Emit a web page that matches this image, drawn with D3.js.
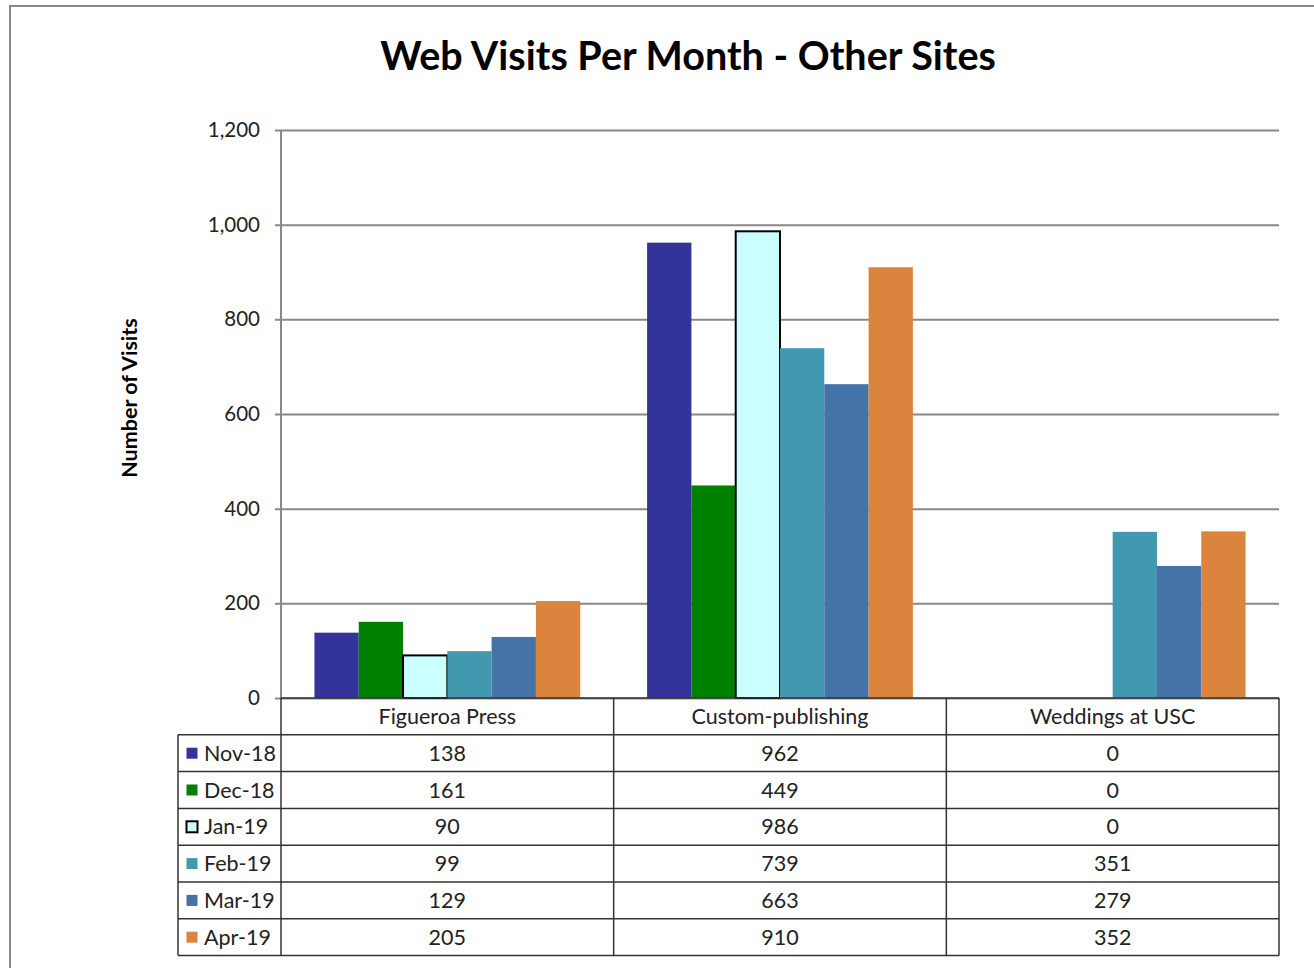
<!DOCTYPE html>
<html>
<head>
<meta charset="utf-8">
<script src="https://cdn.jsdelivr.net/npm/d3@7"></script>
<style>
  body { margin: 0; background: #fff; }
  svg text { font-family: Lato, "Open Sans", sans-serif; fill: #222; }
</style>
</head>
<body>
<div id="chart"></div>
<script>
// data
var sites = ["Figueroa Press", "Custom-publishing", "Weddings at USC"];
var months = ["Nov-18", "Dec-18", "Jan-19", "Feb-19", "Mar-19", "Apr-19"];
var nov18 = [138, 962, 0];
var dec18 = [161, 449, 0];
var jan19 = [90, 986, 0];
var feb19 = [99, 739, 351];
var mar19 = [129, 663, 279];
var apr19 = [205, 910, 352];
var yTicks = [0, 200, 400, 600, 800, 1000, 1200];
var colors = ["#333399", "#008000", "#CCFFFF", "#4198AF", "#4572A7", "#DB843D"];

var seriesValues = [nov18, dec18, jan19, feb19, mar19, apr19];

var W = 1314, H = 968;
var plotLeft = 281, plotRight = 1279, plotTop = 130, plotBottom = 698;
var rowH = 36.8, legendLeft = 178;

var svg = d3.select("#chart").append("svg")
  .attr("width", W)
  .attr("height", H);

// outer chart frame (only top/left visible in the crop)
svg.append("rect")
  .attr("x", 10).attr("y", 6)
  .attr("width", W + 20).attr("height", H + 20)
  .attr("fill", "none")
  .attr("stroke", "#888")
  .attr("stroke-width", 2);

svg.append("text")
  .attr("x", 688).attr("y", 70)
  .attr("text-anchor", "middle")
  .attr("font-size", 39.5)
  .attr("font-weight", "bold")
  .style("fill", "#000")
  .text("Web Visits Per Month - Other Sites");

var x = d3.scaleBand()
  .domain(sites)
  .range([plotLeft, plotRight])
  .padding(0);

var xInner = d3.scaleBand()
  .domain(months)
  .range([0, x.bandwidth()])
  .paddingInner(0)
  .paddingOuter(0.755);

var y = d3.scaleLinear()
  .domain([0, 1200])
  .range([plotBottom, plotTop]);

// gridlines + y axis
var yAxis = svg.append("g")
  .attr("transform", "translate(" + plotLeft + ",0)")
  .call(d3.axisLeft(y)
    .tickValues(yTicks)
    .tickFormat(d3.format(","))
    .tickSizeInner(-(plotRight - plotLeft))
    .tickSizeOuter(0)
    .tickPadding(21));

yAxis.select(".domain").remove();
yAxis.selectAll(".tick line")
  .attr("x1", -6)
  .attr("stroke", "#888")
  .attr("stroke-width", 2);
yAxis.selectAll(".tick text")
  .attr("font-size", 20.5)
  .style("font-family", "Lato, sans-serif")
  .style("fill", "#222");

svg.append("line")
  .attr("x1", plotLeft).attr("x2", plotLeft)
  .attr("y1", plotTop).attr("y2", plotBottom)
  .attr("stroke", "#888")
  .attr("stroke-width", 2);

svg.append("text")
  .attr("transform", "translate(137," + ((plotTop + plotBottom) / 2 - 16) + ") rotate(-90)")
  .attr("text-anchor", "middle")
  .attr("font-size", 21.5)
  .attr("font-weight", "bold")
  .style("fill", "#000")
  .text("Number of Visits");

// bars
var groups = svg.selectAll(".series")
  .data(months)
  .enter().append("g")
  .attr("class", "series");

groups.each(function(m, i) {
  d3.select(this).selectAll("rect")
    .data(sites.map(function(s, j) { return { site: s, value: seriesValues[i][j] }; }))
    .enter().append("rect")
    .attr("x", function(d) { return x(d.site) + xInner(m); })
    .attr("width", xInner.bandwidth())
    .attr("y", function(d) { return y(d.value); })
    .attr("height", function(d) { return y(0) - y(d.value); })
    .attr("fill", colors[i])
    .attr("stroke", m === "Jan-19" ? "#000" : "none")
    .attr("stroke-width", m === "Jan-19" ? 2 : 0)
    .style("display", function(d) { return d.value === 0 ? "none" : null; });
});

// data table
var table = svg.append("g").attr("class", "table");
var tableBottom = plotBottom + rowH * (months.length + 1);
var lineColor = "#333";

// header row horizontal line (also the 0 baseline)
table.append("line")
  .attr("x1", plotLeft).attr("x2", plotRight)
  .attr("y1", plotBottom).attr("y2", plotBottom)
  .attr("stroke", lineColor).attr("stroke-width", 1.5);

d3.range(1, months.length + 2).forEach(function(r) {
  table.append("line")
    .attr("x1", legendLeft).attr("x2", plotRight)
    .attr("y1", plotBottom + r * rowH).attr("y2", plotBottom + r * rowH)
    .attr("stroke", lineColor).attr("stroke-width", 1.5);
});

var colEdges = sites.map(function(s) { return x(s); }).concat([plotRight]);
colEdges.forEach(function(cx) {
  table.append("line")
    .attr("x1", cx).attr("x2", cx)
    .attr("y1", plotBottom).attr("y2", tableBottom)
    .attr("stroke", lineColor).attr("stroke-width", 1.5);
});
table.append("line")
  .attr("x1", legendLeft).attr("x2", legendLeft)
  .attr("y1", plotBottom + rowH).attr("y2", tableBottom)
  .attr("stroke", lineColor).attr("stroke-width", 1.5);

table.selectAll(".head")
  .data(sites)
  .enter().append("text")
  .attr("class", "head")
  .attr("x", function(d) { return x(d) + x.bandwidth() / 2; })
  .attr("y", plotBottom + rowH / 2 + 7.5)
  .attr("text-anchor", "middle")
  .attr("font-size", 21.5)
  .text(function(d) { return d; });

months.forEach(function(m, i) {
  var rowY = plotBottom + rowH * (i + 1);
  table.append("rect")
    .attr("x", 186.5).attr("y", rowY + rowH / 2 - 5.5)
    .attr("width", 11).attr("height", 11)
    .attr("fill", colors[i])
    .attr("stroke", m === "Jan-19" ? "#000" : "none")
    .attr("stroke-width", m === "Jan-19" ? 2 : 0);
  table.append("text")
    .attr("x", 204)
    .attr("y", rowY + rowH / 2 + 7.5)
    .attr("font-size", 21.5)
    .text(m);
  table.selectAll(".v" + i)
    .data(seriesValues[i])
    .enter().append("text")
    .attr("x", function(d, j) { return x(sites[j]) + x.bandwidth() / 2; })
    .attr("y", rowY + rowH / 2 + 7.5)
    .attr("text-anchor", "middle")
    .attr("font-size", 21.5)
    .text(function(d) { return d3.format(",")(d); });
});
</script>
</body>
</html>
